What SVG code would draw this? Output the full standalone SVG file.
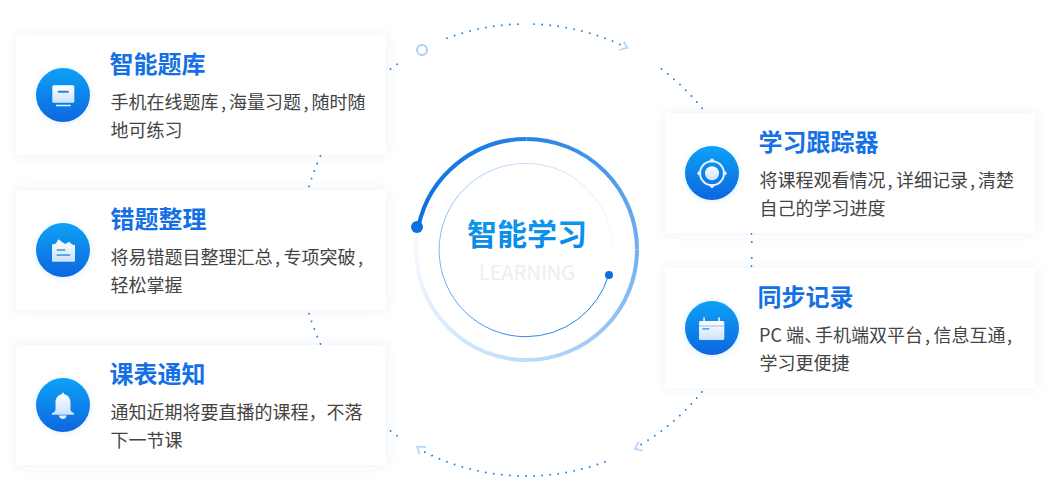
<svg xmlns="http://www.w3.org/2000/svg" width="1060" height="491" viewBox="0 0 1060 491">
<style>
text{font-family:"Noto Sans CJK SC","Noto Sans",sans-serif}
.card{fill:#fff;filter:url(#cardShadow)}
.disc{fill:url(#discGrad);filter:url(#discGlow)}
.title{font-size:24px;font-weight:700;fill:#1470e5}
.desc{font-size:18px;fill:#444}
.palt{font-feature-settings:"palt"}
.dots{fill:none;stroke:#1c82e8;stroke-width:1.9;stroke-linecap:round;stroke-dasharray:0.01 8.056}
.chev{fill:none;stroke:#b4d7f9;stroke-width:1.8}
.ring{fill:none;stroke-width:4}
.thin{fill:none;stroke-width:1}
.glyph{fill:url(#glyphGrad)}
.cut{fill:#1a86ea}
</style>
<defs>
<filter id="cardShadow" x="-10%" y="-25%" width="120%" height="150%"><feDropShadow dx="0" dy="0" stdDeviation="6" flood-color="#2a5aa8" flood-opacity="0.08"/></filter>
<filter id="discGlow" x="-30%" y="-30%" width="160%" height="160%"><feDropShadow dx="0" dy="1" stdDeviation="3" flood-color="#0d7ae8" flood-opacity="0.14"/></filter>
<linearGradient id="discGrad" x1="0" y1="0" x2="0" y2="1"><stop offset="0" stop-color="#08a2f6"/><stop offset="1" stop-color="#0f66e0"/></linearGradient>
<linearGradient id="glyphGrad" x1="0" y1="0" x2="0" y2="1"><stop offset="0" stop-color="#fff"/><stop offset="1" stop-color="#cbe2fb"/></linearGradient>
<linearGradient id="headGrad" x1="0" y1="0" x2="0" y2="1"><stop offset="0" stop-color="#0c9df0"/><stop offset="1" stop-color="#0a86e6"/></linearGradient>
<linearGradient id="o1" gradientUnits="userSpaceOnUse" x1="418" y1="226" x2="526" y2="139"><stop offset="0" stop-color="#0a6fdf"/><stop offset="1" stop-color="#2583e6"/></linearGradient>
<linearGradient id="o2" gradientUnits="userSpaceOnUse" x1="526" y1="139" x2="637" y2="250"><stop offset="0" stop-color="#2583e6"/><stop offset="1" stop-color="#6fb0f0"/></linearGradient>
<linearGradient id="o3" gradientUnits="userSpaceOnUse" x1="637" y1="250" x2="526" y2="360"><stop offset="0" stop-color="#6fb0f0"/><stop offset="1" stop-color="#c0dcf8"/></linearGradient>
<linearGradient id="o4" gradientUnits="userSpaceOnUse" x1="526" y1="360" x2="416" y2="250"><stop offset="0" stop-color="#c0dcf8"/><stop offset="1" stop-color="#f3f8fe"/></linearGradient>
<linearGradient id="i1" gradientUnits="userSpaceOnUse" x1="609" y1="275" x2="526" y2="337"><stop offset="0" stop-color="#1a7de6"/><stop offset="1" stop-color="#2b8ae8"/></linearGradient>
<linearGradient id="i2" gradientUnits="userSpaceOnUse" x1="526" y1="337" x2="439" y2="250"><stop offset="0" stop-color="#2b8ae8"/><stop offset="1" stop-color="#7db8f2"/></linearGradient>
<linearGradient id="i3" gradientUnits="userSpaceOnUse" x1="439" y1="250" x2="526" y2="163"><stop offset="0" stop-color="#7db8f2"/><stop offset="1" stop-color="#c5e0fa"/></linearGradient>
<linearGradient id="i4" gradientUnits="userSpaceOnUse" x1="526" y1="163" x2="612" y2="250"><stop offset="0" stop-color="#c5e0fa"/><stop offset="1" stop-color="#f4f9fe"/></linearGradient>
</defs>

<rect width="1060" height="491" fill="#fff"/>

<g id="connectors">
<path class="dots" d="M534.07 24.13A226 226 0 0 1 621.1 45"/>
<path class="dots" d="M517.93 24.13A226 226 0 0 0 445.7 38.7"/>
<path class="dots" d="M661.4 69.1A226 226 0 0 1 702.9 109.3"/>
<path class="dots" d="M751.4 233.9A226 226 0 0 1 751.9 243.7"/>
<path class="dots" d="M751.86 258.07A226 226 0 0 1 751.3 267.7"/>
<path class="dots" d="M701.9 391.9A226 226 0 0 1 640 445.1"/>
<path class="dots" d="M605 461.8A226 226 0 0 1 423.4 451.4"/>
<path class="dots" d="M397.1 435.7A226 226 0 0 1 389.4 430"/>
<path class="dots" d="M397.1 64.3A226 226 0 0 0 389.4 70"/>
<path class="dots" d="M320.4 156.1A226 226 0 0 0 308.7 187.7"/>
<path class="dots" d="M309.2 313.7A226 226 0 0 0 321 345.1"/>
<path class="chev" d="M623.7 41.7L627.3 47.7L619.3 50"/>
<path class="chev" d="M638.7 441.7L635 449L642.7 450.3"/>
<path class="chev" d="M425.7 447L417.3 446.7L419.7 454.3"/>
<circle cx="422" cy="50" r="5" fill="none" stroke="#a8cff7" stroke-width="2"/>
</g>

<g id="hub">
<path class="ring" stroke="url(#o1)" d="M418.4 226.5A110.5 110.5 0 0 1 526.5 139"/>
<path class="ring" stroke="url(#o2)" d="M526.5 139A110.5 110.5 0 0 1 637 249.5"/>
<path class="ring" stroke="url(#o3)" d="M637 249.5A110.5 110.5 0 0 1 526.5 360"/>
<path class="ring" stroke="url(#o4)" d="M526.5 360A110.5 110.5 0 0 1 416 249.5"/>
<path class="ring" stroke="#f3f8fe" d="M416 249.5A110.5 110.5 0 0 1 418.4 226.5"/>
<circle cx="417" cy="227" r="6" fill="#0a6fdf"/>
<path class="thin" stroke="url(#i1)" d="M608.7 275A86.7 86.7 0 0 1 525.8 336.7"/>
<path class="thin" stroke="url(#i2)" d="M525.8 336.7A86.7 86.7 0 0 1 439.1 250"/>
<path class="thin" stroke="url(#i3)" d="M439.1 250A86.7 86.7 0 0 1 525.8 163.3"/>
<path class="thin" stroke="url(#i4)" d="M525.8 163.3A86.7 86.7 0 0 1 612.5 250"/>
<circle cx="609" cy="275" r="4" fill="#0a6fdf"/>
<text x="527" y="245" font-size="30" font-weight="700" fill="url(#headGrad)" text-anchor="middle">智能学习</text>
<text x="527" y="279.5" font-size="20" fill="#eceef1" text-anchor="middle">LEARNING</text>
</g>

<g id="node-question-bank">
<rect class="card" x="16" y="35" width="370" height="120"/>
<circle class="disc" cx="63" cy="95" r="27"/>
<rect class="glyph" x="52.3" y="85.3" width="22" height="17.4" rx="1.5"/>
<rect class="cut" x="57.7" y="90.7" width="11.3" height="2" rx="1"/>
<rect x="56" y="104.7" width="14.7" height="1.6" fill="#d9e9fc"/>
<text class="title" x="109.5" y="73">智能题库</text>
<text class="desc" y="108.5"><tspan x="110.5">手机在线题库</tspan><tspan x="221">,</tspan><tspan x="229">海量习题</tspan><tspan x="303.5">,</tspan><tspan x="311.5">随时随</tspan></text>
<text class="desc" x="110.5" y="136.5">地可练习</text>
</g>

<g id="node-mistakes">
<rect class="card" x="16" y="190" width="370" height="120"/>
<circle class="disc" cx="63" cy="250" r="27"/>
<path class="glyph" d="M52 244.5L56 243.5L58.3 239.3L65 244L69.3 241.7L72 244.5L75 245V260.7Q75 261.7 74 261.7H53Q52 261.7 52 260.7Z"/>
<rect class="cut" x="56.7" y="249.4" width="8.5" height="1.3"/>
<rect class="cut" x="56.7" y="254.4" width="13.5" height="1.3"/>
<text class="title" x="110.5" y="228">错题整理</text>
<text class="desc" y="263.5"><tspan x="110.5">将易错题目整理汇总</tspan><tspan x="275">,</tspan><tspan x="283.5">专项突破</tspan><tspan x="358">,</tspan></text>
<text class="desc" x="110.5" y="291.5">轻松掌握</text>
</g>

<g id="node-schedule">
<rect class="card" x="16" y="345" width="370" height="120"/>
<circle class="disc" cx="63" cy="405" r="27"/>
<path class="glyph" d="M63 392.5Q63.8 392.5 64.2 394.3C69 395.5 70.5 399 70.5 403V410Q70.7 412 74 413.3V414.7H52V413.3Q55.3 412 55.5 410V403C55.5 399 57 395.5 61.8 394.3Q62.2 392.5 63 392.5Z"/>
<path class="glyph" d="M59 415.5H66.7Q66 419 62.85 419Q59.7 419 59 415.5Z"/>
<text class="title" x="109.5" y="383">课表通知</text>
<text class="desc" x="110.5" y="418.5">通知近期将要直播的课程，不落</text>
<text class="desc" x="110.5" y="446.5">下一节课</text>
</g>

<g id="node-tracker">
<rect class="card" x="665" y="113" width="370" height="120"/>
<circle class="disc" cx="712" cy="173" r="27"/>
<circle cx="712" cy="173.3" r="12" fill="none" stroke="#e6f1fd" stroke-width="2"/>
<circle class="glyph" cx="712" cy="173.3" r="7"/>
<circle cx="712" cy="160.5" r="2" fill="#e6f1fd"/>
<circle cx="712" cy="186" r="2" fill="#e6f1fd"/>
<circle cx="699.3" cy="173.3" r="2" fill="#e6f1fd"/>
<circle cx="724.7" cy="173.3" r="2" fill="#e6f1fd"/>
<text class="title" x="758.5" y="151">学习跟踪器</text>
<text class="desc" y="186.5"><tspan x="759.5">将课程观看情况</tspan><tspan x="887.5">,</tspan><tspan x="896">详细记录</tspan><tspan x="970">,</tspan><tspan x="978">清楚</tspan></text>
<text class="desc" x="759.5" y="214.5">自己的学习进度</text>
</g>

<g id="node-sync">
<rect class="card" x="665" y="268" width="370" height="120"/>
<circle class="disc" cx="712" cy="328" r="27"/>
<rect class="glyph" x="699" y="321" width="25.3" height="19" rx="1.5"/>
<rect x="703.3" y="317.3" width="1.5" height="4" rx="0.7" fill="#fff"/>
<rect x="718.3" y="317.3" width="1.5" height="4" rx="0.7" fill="#fff"/>
<rect class="cut" x="699" y="325.6" width="25.3" height="0.8" opacity="0.6"/>
<rect class="cut" x="702.3" y="328.3" width="7" height="1.2"/>
<text class="title" x="757.5" y="306">同步记录</text>
<text class="desc" y="341.5"><tspan x="759">PC 端</tspan><tspan class="palt" x="804.5">、</tspan><tspan x="815">手机端双平台</tspan><tspan x="925">,</tspan><tspan x="933.5">信息互通</tspan><tspan x="1007">,</tspan></text>
<text class="desc" x="759.5" y="369.5">学习更便捷</text>
</g>
</svg>
